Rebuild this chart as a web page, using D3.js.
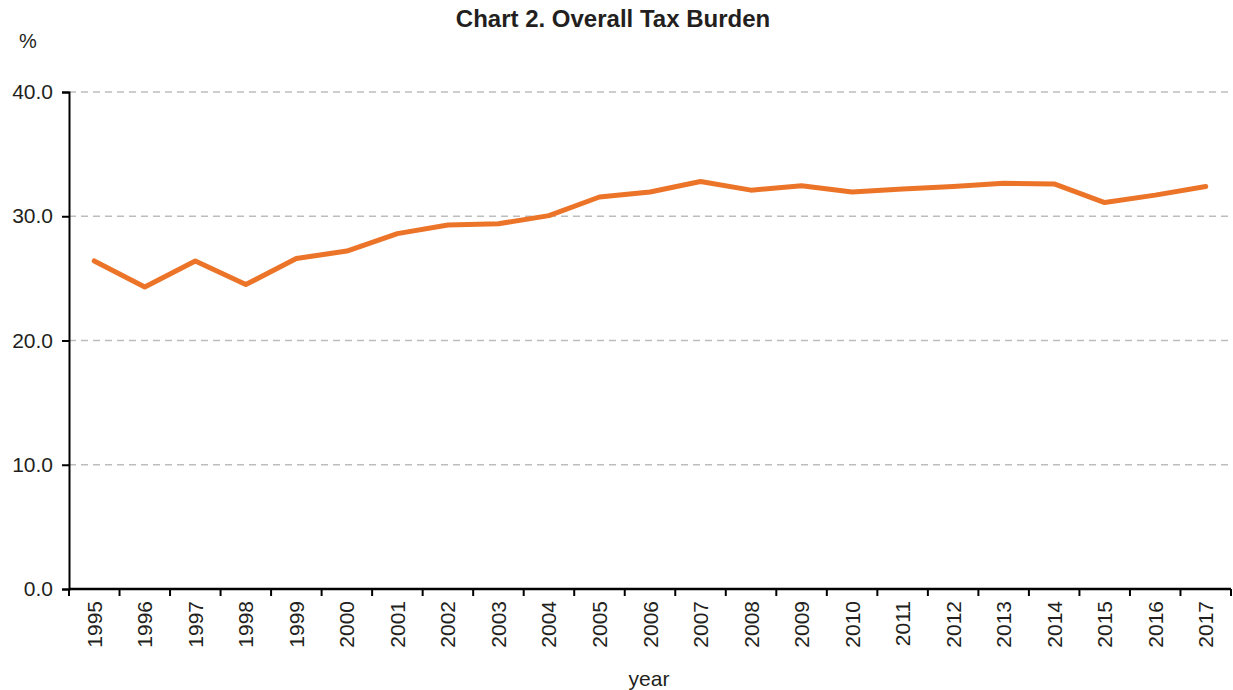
<!DOCTYPE html>
<html>
<head>
<meta charset="utf-8">
<script src="https://cdn.jsdelivr.net/npm/d3@7"></script>
<style>
  body { margin: 0; background: #fff; }
  text { font-family: "Liberation Sans", Arial, sans-serif; fill: #231f20; }
</style>
</head>
<body>
<div id="chart"></div>
<script>
const years = ['1995','1996','1997','1998','1999','2000','2001','2002','2003','2004','2005','2006',
               '2007','2008','2009','2010','2011','2012','2013','2014','2015','2016','2017'];
const taxBurden = [26.4, 24.3, 26.4, 24.5, 26.6, 27.2, 28.6, 29.3, 29.4, 30.05, 31.55, 31.95,
                   32.8, 32.1, 32.45, 31.95, 32.2, 32.4, 32.65, 32.6, 31.1, 31.7, 32.4];
const yTicks = [0, 10, 20, 30, 40];

const width = 1233, height = 690;
const margin = { top: 92, right: 2, bottom: 101, left: 69 };

const svg = d3.select('#chart').append('svg')
    .attr('width', width)
    .attr('height', height);

const x = d3.scaleBand().domain(years).range([margin.left, width - margin.right]);
const y = d3.scaleLinear().domain([0, 40]).range([height - margin.bottom, margin.top]);

// gridlines
svg.append('g').selectAll('line')
    .data(yTicks.filter(d => d > 0))
    .join('line')
    .attr('x1', margin.left).attr('x2', width - margin.right)
    .attr('y1', d => y(d)).attr('y2', d => y(d))
    .attr('stroke', '#bdbdbd')
    .attr('stroke-width', 1.5)
    .attr('stroke-dasharray', '7,5');

// y axis
const yAxis = svg.append('g')
    .attr('transform', `translate(${margin.left},0)`)
    .call(d3.axisLeft(y).tickValues(yTicks).tickFormat(d3.format('.1f')).tickSize(7).tickPadding(9));
yAxis.select('.domain').attr('stroke', '#000').attr('stroke-width', 2);
yAxis.selectAll('.tick line').attr('stroke', '#000').attr('stroke-width', 2);
yAxis.selectAll('.tick text').style('font-size', '21px').attr('fill', '#231f20');

// x axis, ticks between categories
const xAxis = svg.append('g').attr('transform', `translate(0,${y(0)})`);
xAxis.append('line')
    .attr('x1', margin.left).attr('x2', width - margin.right)
    .attr('stroke', '#000').attr('stroke-width', 2.5);
xAxis.selectAll('.sep')
    .data(years.map(d => x(d)).concat([x.range()[1]]))
    .join('line')
    .attr('class', 'sep')
    .attr('x1', d => d).attr('x2', d => d)
    .attr('y1', 0).attr('y2', 7)
    .attr('stroke', '#000').attr('stroke-width', 2);
xAxis.selectAll('.lbl')
    .data(years)
    .join('text')
    .attr('class', 'lbl')
    .attr('transform', d => `translate(${x(d) + x.bandwidth() / 2 + 7.5},12) rotate(-90)`)
    .attr('text-anchor', 'end')
    .style('font-size', '21px')
    .text(d => d);

// line
const line = d3.line()
    .x((d, i) => x(years[i]) + x.bandwidth() / 2)
    .y(d => y(d));
svg.append('path')
    .datum(taxBurden)
    .attr('d', line)
    .attr('fill', 'none')
    .attr('stroke', '#ec7429')
    .attr('stroke-width', 5)
    .attr('stroke-linejoin', 'round')
    .attr('stroke-linecap', 'round');

// titles
svg.append('text')
    .attr('x', 613).attr('y', 27)
    .attr('text-anchor', 'middle')
    .style('font-size', '24px')
    .style('font-weight', 'bold')
    .text('Chart 2. Overall Tax Burden');
svg.append('text')
    .attr('x', 19).attr('y', 48)
    .style('font-size', '20px')
    .text('%');
svg.append('text')
    .attr('x', 649).attr('y', 686)
    .attr('text-anchor', 'middle')
    .style('font-size', '21px')
    .text('year');
</script>
</body>
</html>
